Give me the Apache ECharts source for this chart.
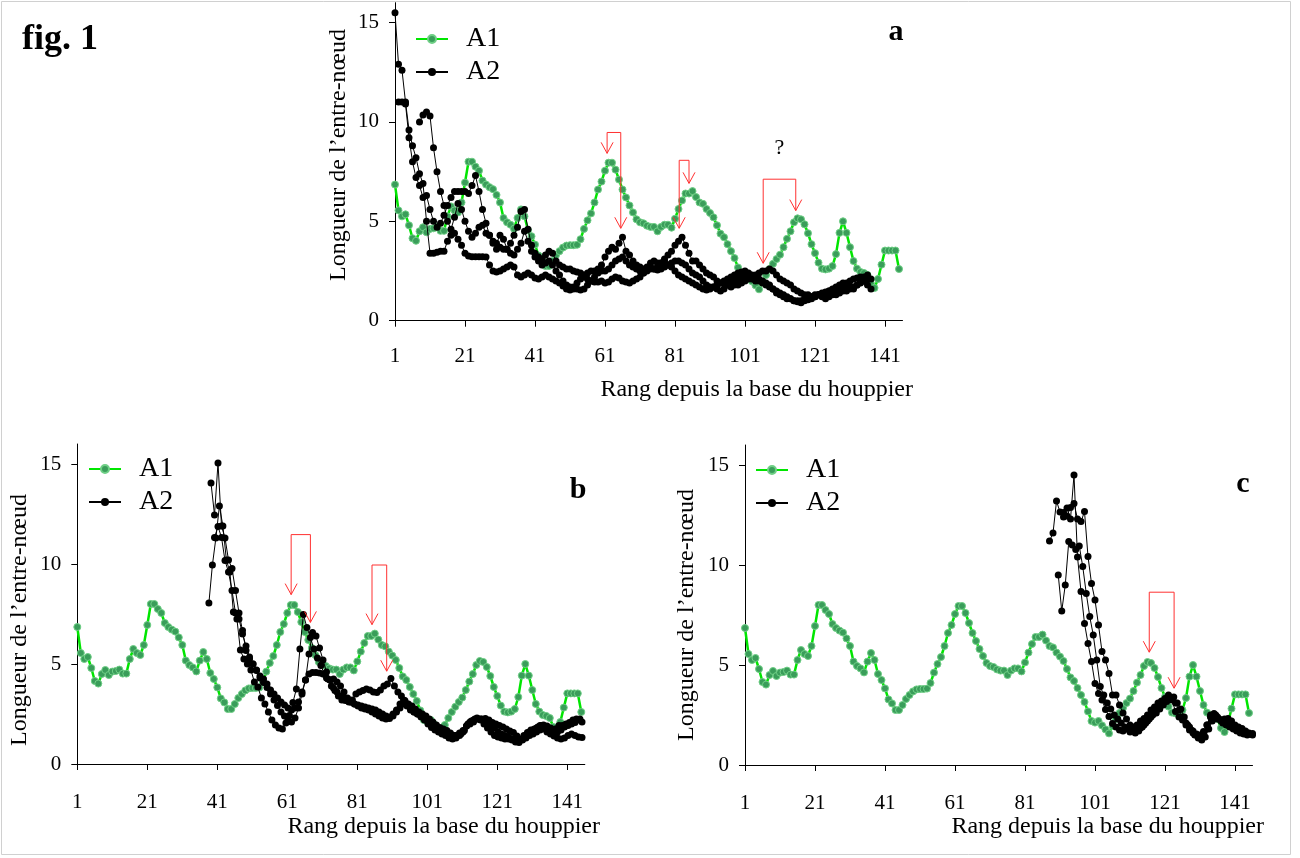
<!DOCTYPE html>
<html><head><meta charset="utf-8">
<script src="https://cdn.jsdelivr.net/npm/echarts@6/dist/echarts.min.js"></script>
<style>html,body{margin:0;padding:0;background:#fff}#c{width:1300px;height:858px}</style>
</head><body><div id="c"></div>
<script>
// ---------- data ----------
const rankTicks = [1, 21, 41, 61, 81, 101, 121, 141];
const valueTicks = [0, 5, 10, 15];
const panelLetters = ['a', 'b', 'c'];
const xAxisTitle = 'Rang depuis la base du houppier';
const yAxisTitle = 'Longueur de l’entre-nœud';

// A1 : internode length per rank (rank 1..145), same in the three panels
const a1Values = [6.85,5.55,5.25,5.35,4.8,4.15,4.02,4.5,4.7,4.45,
4.62,4.65,4.72,4.52,4.52,5.25,5.75,5.55,5.45,5.95,
6.95,8.0,8.0,7.75,7.55,7.05,6.85,6.72,6.62,6.33,
5.95,5.17,4.95,4.83,4.63,5.17,5.6,5.25,4.55,4.25,
3.83,3.28,3.08,2.75,2.75,3.0,3.3,3.5,3.68,3.78,
3.8,3.8,3.82,4.1,4.62,5.05,5.4,5.95,6.6,7.0,
7.55,7.95,7.95,7.6,7.1,6.6,6.2,5.8,5.45,5.1,
4.95,4.9,4.78,4.72,4.72,4.5,4.72,4.83,4.83,4.68,
5.13,5.62,6.05,6.4,6.4,6.52,6.22,5.95,5.88,5.62,
5.42,5.2,4.8,4.38,4.2,3.85,3.5,3.15,2.68,2.2,
2.12,2.2,1.98,1.78,1.58,1.95,2.3,2.6,2.86,3.1,
3.32,3.7,4.12,4.5,4.95,5.15,5.1,4.85,4.4,3.85,
3.4,2.92,2.62,2.58,2.62,2.75,3.35,4.42,5.0,4.42,
3.7,3.0,2.62,2.45,2.4,2.3,1.85,1.65,2.1,2.82,
3.53,3.53,3.53,3.53,2.6];

// A2 panel a : three trees, first rank and values
const a2aStarts = [1, 2, 8];
const a2aLine1 = [15.5,12.9,12.6,11.0,9.6,8.8,8.2,7.4,6.9,5.0,3.4,3.4,3.45,3.5,3.5,4.0,4.3,4.4,4.1,3.8,
3.4,3.25,3.22,3.22,3.22,3.22,3.2,2.8,2.5,2.45,2.5,2.6,2.7,2.8,2.7,2.3,2.2,2.3,2.4,2.3,
2.15,2.1,2.2,2.3,2.2,2.1,2.0,1.9,1.75,1.6,1.55,1.7,1.9,2.1,2.2,2.1,2.0,1.95,1.95,2.0,
1.9,1.95,2.1,2.2,2.15,2.0,1.95,1.9,2.0,2.1,2.2,2.4,2.6,2.7,2.6,2.55,2.6,2.7,2.8,2.7,
2.5,2.3,2.2,2.1,2.0,1.9,1.8,1.7,1.6,1.55,1.6,1.7,1.8,1.9,2.0,2.1,2.2,2.3,2.4,2.45,
2.5,2.4,2.3,2.2,2.1,2.0,1.9,1.8,1.6,1.5,1.4,1.3,1.2,1.1,1.0,0.95,0.9,1.0,1.05,1.1,
1.2,1.3,1.4,1.45,1.5,1.55,1.6,1.7,1.8,1.9,2.0,2.1,2.15,2.2,2.0,1.8,1.6];
const a2aLine2 = [11.0,11.0,10.9,9.2,8.0,7.2,6.8,6.2,6.3,5.6,5.0,4.7,4.9,5.3,5.8,6.2,6.5,6.5,6.5,6.5,
6.4,6.8,7.3,6.5,5.6,4.9,4.3,3.9,3.6,3.7,3.6,3.6,3.9,4.3,4.7,5.5,5.6,4.6,3.8,3.4,
3.2,3.1,3.3,3.5,3.4,3.0,2.8,2.7,2.6,2.6,2.5,2.45,2.4,2.3,2.4,2.5,2.5,2.6,2.8,3.2,
3.5,3.7,3.6,3.9,4.2,3.5,3.3,3.0,2.8,2.7,2.6,2.7,2.9,3.0,2.9,2.9,3.1,3.3,3.5,3.8,
4.0,4.2,3.8,3.4,3.0,3.0,2.8,2.6,2.4,2.3,2.2,2.0,1.9,1.9,1.8,1.7,1.8,1.8,1.9,2.0,
2.1,2.2,2.3,2.4,2.5,2.5,2.6,2.5,2.3,2.1,2.0,1.9,1.8,1.6,1.5,1.4,1.3,1.3,1.2,1.2,
1.3,1.2,1.1,1.2,1.3,1.3,1.4,1.5,1.5,1.6,1.7,1.8,2.0,2.2,2.3,2.1];
const a2aLine3 = [10.0,10.35,10.5,10.3,8.7,7.5,6.5,5.8,5.0,4.6,5.2,5.9,5.6,5.0,4.5,4.2,4.4,4.7,4.8,4.4,
4.3,4.0,3.9,4.3,4.1,3.6,3.4,3.3,3.6,3.9,4.5,4.0,3.5,3.2,3.0,2.8,2.9,3.0,2.8,2.5,
2.3,2.0,1.8,1.7,1.6,1.6,1.55,1.6,1.8,2.0,2.2,2.4,2.5,2.5,2.6,2.8,3.0,3.1,3.2,3.0,
2.8,2.7,2.6,2.5,2.4,2.5,2.6,2.6,2.7,2.9,3.0,2.8,2.9,3.0,3.0,2.9,2.8,2.6,2.4,2.3,
2.2,2.0,1.8,1.7,1.7,1.6,1.5,1.6,1.8,1.9,2.0,2.1,2.2,2.3,2.2,2.1,2.0,2.0,1.9,1.8,
1.7,1.6,1.4,1.3,1.2,1.1,1.1,1.0,1.0,1.0,1.1,1.2,1.2,1.3,1.3,1.3,1.4,1.5,1.6,1.7,
1.8,1.9,1.8,1.7,1.6,1.8,1.9,2.0,2.1];

// A2 panel b
const a2bStarts = [38.6, 39.2, 40.2];
const a2bLine1 = [8.05,9.95,11.3,12.9,11.9,10.2,9.6,7.6,7.25,5.7,5.25,5.0,4.7,4.1,3.85,3.3,3.0,2.6,2.2,1.95,
1.8,1.75,2.05,2.42,3.08,3.75,5.75,7.47,6.83,6.33,5.75,5.3,4.92,4.5,4.25,3.9,3.67,3.4,3.2,3.17,
3.1,3.2,3.5,3.6,3.67,3.75,3.7,3.6,3.58,3.7,3.9,4.0,4.28,3.9,3.6,3.4,3.17,3.0,2.9,2.75,
2.6,2.5,2.4,2.25,2.1,1.95,1.83,1.75,1.67,1.55,1.42,1.42,1.5,1.67,2.0,2.15,2.25,2.25,2.25,2.28,
2.2,2.08,2.0,1.92,1.85,1.75,1.65,1.58,1.4,1.25,1.42,1.58,1.7,1.75,1.85,1.92,1.8,1.75,1.58,1.75,
1.92,1.92,2.0,2.08,2.2,2.25,2.25];
const a2bLine2 = [14.05,12.45,15.05,11.9,11.3,10.2,9.78,8.67,7.55,6.67,5.67,5.25,5.0,4.67,4.3,4.08,3.83,3.5,3.2,2.92,
2.6,2.4,2.2,2.1,2.3,2.8,3.5,4.2,5.5,6.58,6.4,5.8,5.2,4.6,4.2,3.8,3.6,3.4,3.3,3.2,
3.1,3.0,2.9,2.8,2.75,2.7,2.6,2.5,2.4,2.3,2.25,2.28,2.5,2.7,3.0,3.2,3.0,2.75,2.6,2.5,
2.4,2.25,2.1,1.9,1.83,1.7,1.67,1.6,1.5,1.42,1.42,1.55,1.67,1.9,2.0,2.1,2.25,2.2,2.0,1.8,
1.6,1.42,1.35,1.3,1.25,1.25,1.2,1.1,1.08,1.2,1.3,1.42,1.5,1.6,1.7,1.75,1.6,1.5,1.4,1.3,
1.25,1.3,1.42,1.5,1.42,1.35,1.33];
const a2bLine3 = [11.33,11.87,11.33,10.17,9.6,8.67,7.55,7.25,6.5,5.9,5.35,5.0,4.7,4.4,4.25,4.0,3.7,3.5,3.3,3.1,
2.95,2.8,2.7,2.8,3.1,3.6,4.2,4.5,4.58,4.58,4.55,4.5,4.3,4.2,4.25,4.1,3.9,3.6,3.3,3.1,
3.0,2.95,2.9,2.85,2.8,2.75,2.7,2.6,2.5,2.4,2.35,2.4,2.6,2.8,3.0,2.9,2.7,2.6,2.5,2.35,
2.2,2.0,1.83,1.7,1.6,1.5,1.42,1.3,1.25,1.3,1.42,1.6,1.9,2.1,2.2,2.3,2.25,2.15,2.05,1.92,
1.8,1.6,1.5,1.42,1.35,1.25,1.2,1.15,1.25,1.4,1.6,1.7,1.8,1.92,1.95,1.9,1.8,1.7,1.6,1.7,
1.85,1.92,2.0,2.08,2.2,2.1];

// A2 panel c
const a2cStarts = [88, 90.5, 92];
const a2cLine1 = [11.2,11.6,13.2,12.65,12.4,12.85,12.3,14.5,10.4,8.67,7.08,6.08,5.17,4.08,3.58,3.25,2.78,2.42,2.08,1.9,
1.75,1.7,1.8,1.65,1.75,2.0,2.2,2.33,2.5,2.75,2.9,3.1,3.2,3.33,3.5,3.25,2.67,2.4,2.25,2.0,
1.75,1.6,1.5,1.5,1.67,2.0,2.5,2.58,2.4,2.25,2.3,2.33,2.2,2.0,1.9,1.83,1.7,1.6,1.58];
const a2cLine2 = [9.5,7.7,9.0,11.17,11.0,10.78,10.95,9.92,8.58,7.42,6.5,5.25,3.92,3.5,3.1,2.8,2.5,2.3,2.1,1.9,
1.8,1.75,1.6,1.7,1.9,2.1,2.3,2.5,2.6,2.8,3.0,3.17,3.3,3.4,3.1,2.8,2.4,2.0,1.75,1.5,
1.35,1.25,1.4,1.8,2.2,2.5,2.3,2.1,2.0,1.9,1.8,1.7,1.6,1.55,1.5];
const a2cLine3 = [12.63,12.45,12.88,13.08,12.3,12.17,12.67,10.42,9.08,8.25,7.0,5.67,5.25,4.58,3.5,3.5,3.0,2.6,2.3,2.0,
1.9,1.8,1.85,2.0,2.2,2.4,2.6,2.8,3.0,3.2,3.4,3.35,3.1,2.75,2.4,2.1,1.9,1.7,1.55,1.45,
1.6,2.0,2.4,2.5,2.3,2.2,2.1,2.0,1.9,1.8,1.75,1.65,1.6,1.55,1.5];

// red bracket arrows : [left rank, right rank, top value, left tip value, right tip value]
const arrowsA = [[61.6, 65.5, 9.47, 8.42, 4.65], [82.2, 85.0, 8.07, 4.65, 6.91], [106.2, 115.5, 7.12, 2.89, 5.54]];
const arrowsB = [[62.1, 67.6, 11.47, 8.47, 7.08], [85.2, 89.4, 9.95, 6.97, 4.64]];
const arrowsC = [[116.5, 123.6, 8.64, 5.64, 3.84]];
const questionMark = [110.8, 8.68];

// ---------- chart ----------
const serif = "'Liberation Serif','Times New Roman',serif";
const chart = echarts.init(document.getElementById('c'), null, {renderer: 'canvas', width: 1300, height: 858});

const grids = [
  {left: 395, top: 2.7, width: 507.5, height: 318},
  {left: 77.3, top: 444, width: 507.5, height: 320},
  {left: 745, top: 445, width: 507.5, height: 320}
];
const xLabelMargin = [25, 28, 28];

const xAxes = grids.map((g, i) => ({
  type: 'value', gridIndex: i, min: 1, max: 146,
  axisLine: {show: true, onZero: false, lineStyle: {color: '#000', width: 1}},
  axisTick: {show: true, customValues: rankTicks, length: 6, lineStyle: {color: '#000'}},
  axisLabel: {customValues: rankTicks, fontFamily: serif, fontSize: 21, color: '#000', margin: xLabelMargin[i]},
  splitLine: {show: false}
}));
const yAxes = grids.map((g, i) => ({
  type: 'value', gridIndex: i, min: 0, max: 16,
  axisLine: {show: true, lineStyle: {color: '#000', width: 1}},
  axisTick: {show: true, customValues: valueTicks, length: 6, lineStyle: {color: '#000'}},
  axisLabel: {customValues: valueTicks, fontFamily: serif, fontSize: 21, color: '#000', margin: 16},
  splitLine: {show: false}
}));

function a1Series(i) {
  return {
    name: 'A1', type: 'line', xAxisIndex: i, yAxisIndex: i,
    data: a1Values.map((v, k) => [k + 1, v]),
    symbol: 'circle', symbolSize: 7, showSymbol: true,
    lineStyle: {color: '#00e600', width: 2.5},
    itemStyle: {color: '#3a9d5a', borderColor: '#6fcf86', borderWidth: 1},
    z: 2, animation: false
  };
}
function a2Series(i, start, values) {
  return {
    name: 'A2', type: 'line', xAxisIndex: i, yAxisIndex: i,
    data: values.map((v, k) => [start + k, v]),
    symbol: 'circle', symbolSize: 7, showSymbol: true,
    lineStyle: {color: '#000', width: 1},
    itemStyle: {color: '#000'},
    z: 3, animation: false
  };
}

const series = [];
const a2Sets = [
  [a2aStarts, [a2aLine1, a2aLine2, a2aLine3]],
  [a2bStarts, [a2bLine1, a2bLine2, a2bLine3]],
  [a2cStarts, [a2cLine1, a2cLine2, a2cLine3]]
];
for (let i = 0; i < 3; i++) {
  series.push(a1Series(i));
  a2Sets[i][1].forEach((vals, j) => series.push(a2Series(i, a2Sets[i][0][j], vals)));
}

const legendPos = [[410, 20], [83, 450], [750, 451]];
const legends = legendPos.map(p => ({
  data: ['A1', 'A2'], left: p[0], top: p[1], orient: 'vertical',
  itemWidth: 32, itemHeight: 10, itemGap: 5, selectedMode: false,
  textStyle: {fontFamily: serif, fontSize: 28, lineHeight: 26, color: '#000', padding: [0, 0, 0, 13]}
}));

chart.setOption({
  backgroundColor: '#fff',
  animation: false,
  grid: grids,
  xAxis: xAxes,
  yAxis: yAxes,
  legend: legends,
  series: series
});

// ---------- annotations ----------
const red = '#ff3030';
const gfx = [];
gfx.push({type: 'rect', silent: true, z: -10, shape: {x: 1.5, y: 1.5, width: 1289, height: 853},
  style: {fill: 'none', stroke: '#d0d0d0', lineWidth: 1}});
gfx.push({type: 'text', x: 22, y: 40, style: {text: 'fig. 1', font: 'bold 36px ' + serif, fill: '#000', textVerticalAlign: 'middle'}});

const letterPos = [[896, 32], [578, 490], [1243, 484]];
letterPos.forEach((p, i) => gfx.push({type: 'text', x: p[0], y: p[1],
  style: {text: panelLetters[i], font: 'bold 30px ' + serif, fill: '#000', textAlign: 'center', textVerticalAlign: 'middle'}}));

const xNamePos = [[913, 390], [600, 827], [1264, 827]];
xNamePos.forEach(p => gfx.push({type: 'text', x: p[0], y: p[1],
  style: {text: xAxisTitle, font: '24px ' + serif, fill: '#000', textAlign: 'right', textVerticalAlign: 'middle'}}));
const yNamePos = [[339, 155], [20, 620], [687, 615]];
yNamePos.forEach(p => gfx.push({type: 'text', x: p[0], y: p[1], rotation: Math.PI / 2,
  style: {text: yAxisTitle, font: '24px ' + serif, fill: '#000', textAlign: 'center', textVerticalAlign: 'middle'}}));

function addArrows(g, list) {
  list.forEach(a => {
    const L = chart.convertToPixel({gridIndex: g}, [a[0], a[3]]);
    const R = chart.convertToPixel({gridIndex: g}, [a[1], a[4]]);
    const T = chart.convertToPixel({gridIndex: g}, [a[0], a[2]]);
    gfx.push({type: 'polyline', silent: true, z: 20, shape: {points: [[L[0], L[1]], [L[0], T[1]], [R[0], T[1]], [R[0], R[1]]]},
      style: {stroke: red, lineWidth: 1, fill: 'none'}});
    [L, R].forEach(P => gfx.push({type: 'polyline', silent: true, z: 20,
      shape: {points: [[P[0] - 6, P[1] - 11], [P[0], P[1]], [P[0] + 6, P[1] - 11]]},
      style: {stroke: red, lineWidth: 1, fill: 'none'}}));
  });
}
addArrows(0, arrowsA);
addArrows(1, arrowsB);
addArrows(2, arrowsC);
const q = chart.convertToPixel({gridIndex: 0}, questionMark);
gfx.push({type: 'text', x: q[0], y: q[1], style: {text: '?', font: '22px ' + serif, fill: '#000', textAlign: 'center', textVerticalAlign: 'middle'}});

chart.setOption({graphic: gfx});
</script>
</body></html>
